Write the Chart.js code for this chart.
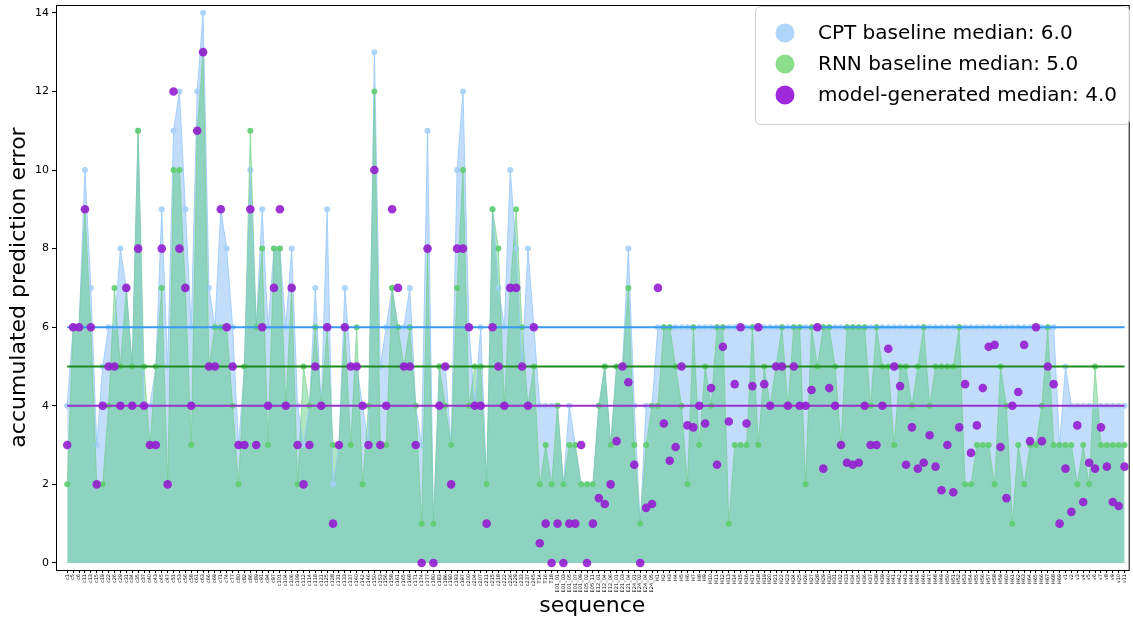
<!DOCTYPE html>
<html>
<head>
<meta charset="utf-8">
<script src="https://cdn.jsdelivr.net/npm/chart.js@4.4.0/dist/chart.umd.min.js"></script>
<style>
  body { margin: 0; background: #fff; }
  #grafico { display: block; }
</style>
</head>
<body>
<canvas id="grafico" width="1133" height="621"></canvas>
<script>
// secuencias (eje x)
const secuencias = [
  'c1','c5','c6','c11','c13','c15','c19','c22','c26','c29','c31','c34','c35','c37','c40','c43','c45','c47','c51','c53',
  'c56','c58','c61','c63','c66','c69','c71','c74','c77','c80','c82','c86','c89','c91','c94','c97','c101','c104','c106','c109',
  'c112','c114','c118','c121','c125','c128','c131','c133','c137','c140','c142','c146','c150','c153','c156','c158','c161','c165','c168','c171',
  'c174','c177','c180','c183','c186','c190','c193','c197','c200','c204','c207','c211','c215','c218','c222','c226','c229','c233','c237','c245',
  'T14','T16','T18',
  'E01_01','E01_03','E01_05','E01_07','E01_09','E05_02','E05_11','E12_01','E12_04','E12_06','E21_01','E21_03','E21_04','E24_01','E24_02','E24_04','E24_05',
  'H1','H2','H3','H4','H5','H6','H7','H8','H9','H10','H11','H12','H13','H14','H15','H16','H17','H18','H19','H20',
  'H21','H22','H23','H24','H25','H26','H27','H28','H29','H30','H31','H32','H33','H34','H35','H36','H37','H38','H39','H40',
  'H41','H42','H43','H44','H45','H46','H47','H48','H49','H50','H51','H52','H53','H54','H55','H56','H57','H58','H59','H60',
  'H61','H62','H63','H64','H65','H66','H67','H68','H69',
  'v1','v2','v3','v4','v5','v6','v7','v8','v9','v10','v11'
]

const errorCPT = [
  4,6,6,10,7,3,5,6,6,8,7,5,11,4,4,5,9,5,11,12,9,6,12,14,7,6,9,8,6,3,
  5,10,6,9,6,8,8,6,8,4,3,4,7,4,9,2,3,7,5,5,4,3,13,5,6,7,6,6,7,4,
  3,11,1,5,5,3,10,12,6,4,6,2,9,7,6,10,8,5,8,6,4,4,4,4,2,4,3,2,2,2,
  4,5,3,5,5,8,4,1,4,4,6,6,6,6,6,6,6,6,6,6,6,6,6,6,6,6,6,6,6,6,
  6,6,6,6,6,6,6,6,6,6,6,6,6,6,6,6,6,6,6,6,6,6,6,6,6,6,6,6,6,6,
  6,6,6,6,6,6,6,6,6,6,6,6,6,6,6,6,6,6,3,5,4,4,4,4,4,4,4,4,4,4
]

const errorRNN = [
  2,6,6,9,6,2,2,4,7,5,7,5,11,5,3,5,7,2,10,10,7,3,11,13,5,6,6,6,4,2,
  5,11,6,8,3,8,8,4,7,2,5,4,6,4,6,3,3,6,3,6,2,4,12,3,3,7,6,5,6,4,
  1,8,1,5,4,3,7,10,4,5,5,2,9,8,4,7,9,6,4,5,2,3,2,4,2,3,3,2,2,2,
  4,5,3,5,5,7,3,1,3,4,4,6,6,5,4,2,6,3,5,4,6,6,1,3,3,3,6,3,5,4,
  5,6,4,6,6,2,6,5,6,6,5,3,6,6,6,6,4,6,5,5,3,5,5,4,5,6,4,5,5,5,
  5,6,2,2,3,3,3,2,5,4,1,3,2,3,3,4,6,3,3,3,3,2,3,2,5,3,3,3,3,3
]

const errorModelo = [
  3,6,6,9,6,2,4,5,5,4,7,4,8,4,3,3,8,2,12,8,7,4,11,13,5,5,9,6,5,3,
  3,9,3,6,4,7,9,4,7,3,2,3,5,4,6,1,3,6,5,5,4,3,10,3,4,9,7,5,5,3,
  0,8,0,4,5,2,8,8,6,4,4,1,6,5,4,7,7,5,4,6,0.5,1,0,1,0,1,1,3,0,1,
  1.65,1.5,2,3.1,5,4.6,2.5,0,1.4,1.5,7,3.55,2.6,2.95,5,3.5,3.45,4,3.55,4.45,2.5,5.5,3.6,4.55,6,3.55,4.5,6,4.55,4,
  5,5,4,5,4,4,4.4,6,2.4,4.45,4,3,2.55,2.5,2.55,4,3,3,4,5.45,5,4.5,2.5,3.45,2.4,2.55,3.25,2.45,1.85,3,
  1.8,3.45,4.55,2.8,3.5,4.45,5.5,5.55,2.95,1.65,4,4.35,5.55,3.1,6,3.1,5,4.55,1,2.4,1.3,3.5,1.55,2.55,2.4,3.45,2.45,1.55,1.45,2.45
]

const medianas = [6.0, 5.0, 4.0]
const nombres = ['CPT baseline median: 6.0', 'RNN baseline median: 5.0', 'model-generated median: 4.0']
const ticksY = [0, 2, 4, 6, 8, 10, 12, 14]

const fuente = 'DejaVu Sans'
const puntos = arr => arr.map((v, i) => ({x: i, y: v}))
const lineaMediana = m => [{x: 0, y: m}, {x: secuencias.length - 1, y: m}]

// leyenda dibujada dentro del grafico (como matplotlib)
const leyenda = {
  id: 'leyenda',
  afterDraw(chart) {
    const ctx = chart.ctx
    const a = chart.chartArea
    // marco del grafico
    ctx.save()
    ctx.strokeStyle = '#000'
    ctx.lineWidth = 1
    ctx.strokeRect(a.left + 0.5, a.top + 0.5, a.right - a.left, a.bottom - a.top)

    ctx.fillStyle = 'rgba(255,255,255,0.8)'
    ctx.strokeStyle = '#d0d0d0'
    ctx.beginPath()
    ctx.roundRect(755.5, 6.5, 374, 118, 5)
    ctx.fill()
    ctx.stroke()

    const colores = ['rgba(175,213,250,1)', 'rgba(140,222,140,1)', 'rgba(158,40,218,1)']
    ctx.font = '20px "' + fuente + '"'
    ctx.textBaseline = 'middle'
    nombres.forEach((n, i) => {
      let y = 33 + i * 31
      ctx.fillStyle = colores[i]
      ctx.beginPath()
      ctx.arc(785, y, 9.5, 0, Math.PI * 2)
      ctx.fill()
      ctx.fillStyle = '#000'
      ctx.fillText(n, 818, y + 1)
    })
    ctx.restore()
  }
}

const ctxGrafico = document.getElementById('grafico').getContext('2d')
const grafico = new Chart(ctxGrafico, {
  type: 'line',
  data: {
    datasets: [
      {
        label: nombres[2],
        data: puntos(errorModelo),
        showLine: false,
        pointRadius: 4.3,
        pointBackgroundColor: 'rgba(150,30,210,0.9)',
        pointBorderWidth: 0,
        order: 1
      },
      {
        label: 'mediana modelo',
        data: lineaMediana(medianas[2]),
        borderColor: '#9932cc',
        borderWidth: 2,
        pointRadius: 0,
        order: 2
      },
      {
        label: 'mediana RNN',
        data: lineaMediana(medianas[1]),
        borderColor: '#1e8a1e',
        borderWidth: 2,
        pointRadius: 0,
        order: 3
      },
      {
        label: 'mediana CPT',
        data: lineaMediana(medianas[0]),
        borderColor: '#3a9af0',
        borderWidth: 2,
        pointRadius: 0,
        order: 4
      },
      {
        label: nombres[1],
        data: puntos(errorRNN),
        borderColor: 'rgba(110,205,130,0.6)',
        borderWidth: 1,
        backgroundColor: 'rgba(80,200,120,0.45)',
        fill: 'origin',
        tension: 0,
        pointRadius: 3,
        pointBackgroundColor: 'rgba(95,205,110,0.9)',
        pointBorderWidth: 0,
        order: 5
      },
      {
        label: nombres[0],
        data: puntos(errorCPT),
        borderColor: 'rgba(150,200,250,0.8)',
        borderWidth: 1,
        backgroundColor: 'rgba(120,180,245,0.45)',
        fill: 'origin',
        tension: 0,
        pointRadius: 3,
        pointBackgroundColor: 'rgba(165,208,250,0.9)',
        pointBorderWidth: 0,
        order: 6
      }
    ]
  },
  options: {
    responsive: false,
    animation: false,
    layout: { padding: { top: 5, right: 0, left: 0, bottom: 0 } },
    plugins: {
      legend: { display: false },
      tooltip: { enabled: false },
      filler: { drawTime: 'beforeDatasetsDraw' }
    },
    scales: {
      x: {
        type: 'linear',
        min: -1.9,
        max: 179.7,
        afterBuildTicks: s => { s.ticks = secuencias.map((_, i) => ({value: i})) },
        afterFit: s => { s.height = 51; s.paddingLeft = 0; s.paddingRight = 0 },
        grid: { drawOnChartArea: false, tickLength: 3, color: '#000' },
        border: { color: '#000' },
        ticks: {
          autoSkip: false,
          maxRotation: 90,
          minRotation: 90,
          padding: 1,
          color: '#000',
          font: { size: 5, family: fuente },
          callback: v => secuencias[v]
        },
        title: {
          display: true,
          text: 'sequence',
          color: '#000',
          font: { size: 22, family: fuente },
          padding: { top: 0, bottom: 2 }
        }
      },
      y: {
        min: -0.18,
        max: 14.2,
        afterBuildTicks: s => { s.ticks = ticksY.map(v => ({value: v})) },
        afterFit: s => { s.width = 56; s.paddingTop = 0; s.paddingBottom = 0 },
        grid: { drawOnChartArea: false, tickLength: 4, color: '#000' },
        border: { color: '#000' },
        ticks: {
          padding: 3,
          color: '#000',
          font: { size: 11, family: fuente }
        },
        title: {
          display: true,
          text: 'accumulated prediction error',
          color: '#000',
          font: { size: 22, family: fuente },
          padding: { top: 6, bottom: 0 }
        }
      }
    }
  },
  plugins: [leyenda]
})
</script>
</body>
</html>
